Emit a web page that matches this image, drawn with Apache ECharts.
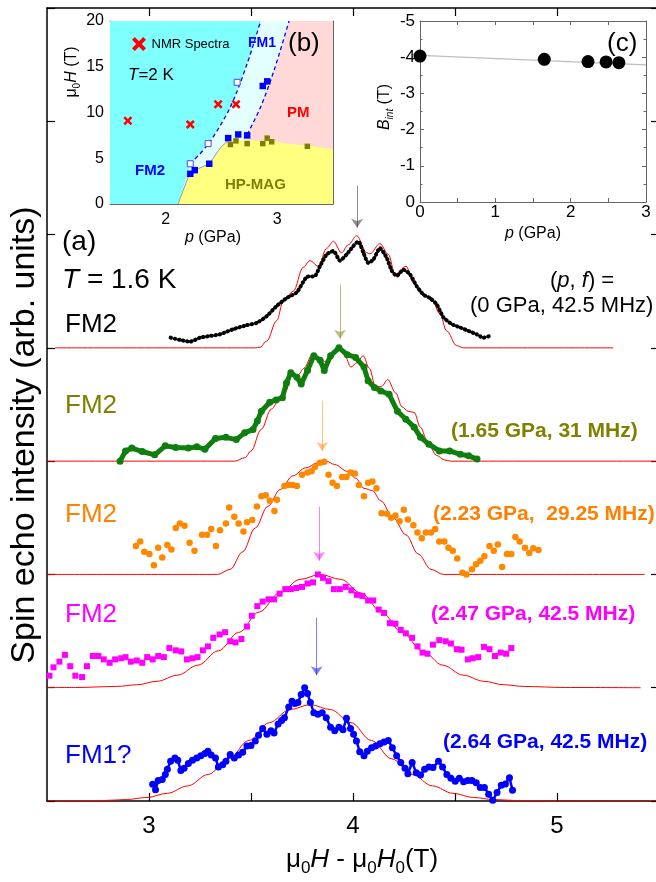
<!DOCTYPE html>
<html><head><meta charset="utf-8">
<script src="https://cdn.jsdelivr.net/npm/echarts@6/dist/echarts.min.js"></script>
<style>html,body{margin:0;padding:0;background:#fff}#c{width:656px;height:882px}</style>
</head><body><div id="c"></div>
<script>
// ---------------- main panel (a) ----------------
const xTickValues = [3, 3.5, 4, 4.5, 5];
const xTickLabels = [3, 4, 5];
const offsets = [4, 3, 2, 1, 0]; // black, green, orange, magenta, blue

const blackX = [3.106,3.152,3.201,3.250,3.299,3.348,3.413,3.479,3.528,3.577,3.626,3.675,3.724,3.773,3.814,3.838,3.871,3.904,3.936,3.969,4.002,4.026,4.051,4.075,4.100,4.132,4.165,4.190,4.214,4.247,4.279,4.312,4.345,4.377,4.410,4.443,4.484,4.525,4.565,4.606,4.639,4.672];
const blackY = [0.09,0.07,0.055,0.09,0.105,0.12,0.165,0.20,0.22,0.28,0.37,0.44,0.49,0.625,0.635,0.72,0.825,0.855,0.77,0.825,0.90,0.94,0.84,0.75,0.78,0.88,0.795,0.68,0.635,0.69,0.65,0.545,0.47,0.44,0.385,0.27,0.21,0.18,0.15,0.12,0.09,0.105];
const blackFitX = [2.54,3.52,3.544,3.577,3.626,3.658,3.707,3.756,3.789,3.830,3.871,3.904,3.944,3.977,4.018,4.067,4.083,4.132,4.173,4.206,4.260,4.296,4.345,4.386,4.426,4.459,4.508,4.541,5.276];
const blackFitY = [0,0,0.005,0.06,0.24,0.41,0.50,0.71,0.77,0.72,0.88,0.94,0.84,0.91,0.99,0.84,0.83,0.92,0.825,0.65,0.72,0.575,0.46,0.43,0.30,0.15,0.02,0,0];

const greenX = [2.858,2.885,2.916,2.967,3.028,3.080,3.131,3.193,3.234,3.274,3.326,3.377,3.428,3.469,3.510,3.531,3.551,3.592,3.623,3.654,3.674,3.695,3.725,3.746,3.777,3.808,3.839,3.859,3.890,3.931,3.972,4.013,4.054,4.074,4.105,4.136,4.177,4.218,4.259,4.300,4.331,4.372,4.423,4.474,4.526,4.567,4.608];
const greenY = [0.0,0.09,0.115,0.085,0.056,0.135,0.12,0.115,0.126,0.106,0.20,0.21,0.19,0.25,0.28,0.355,0.44,0.52,0.54,0.56,0.69,0.78,0.74,0.68,0.80,0.93,0.89,0.80,0.93,1.0,0.94,0.915,0.83,0.71,0.65,0.62,0.59,0.44,0.37,0.30,0.21,0.15,0.09,0.09,0.06,0.047,0.018];
const greenFitX = [2.5,3.42,3.47,3.50,3.55,3.60,3.64,3.67,3.70,3.73,3.76,3.80,3.84,3.86,3.90,3.93,3.96,3.99,4.02,4.05,4.08,4.11,4.14,4.17,4.21,4.24,4.27,4.30,4.33,4.37,4.41,4.45,4.48,5.49];
const greenFitY = [0,0,0.03,0.09,0.28,0.46,0.55,0.62,0.76,0.76,0.82,0.94,0.91,0.88,0.95,1.0,0.93,0.83,0.87,0.93,0.82,0.66,0.66,0.72,0.6,0.48,0.44,0.43,0.3,0.15,0.05,0.01,0,0];

const orangeX = [2.936,2.957,2.977,3.002,3.024,3.045,3.065,3.090,3.110,3.131,3.151,3.174,3.199,3.223,3.260,3.285,3.305,3.328,3.348,3.377,3.393,3.418,3.439,3.463,3.480,3.506,3.529,3.551,3.572,3.592,3.615,3.627,3.664,3.685,3.705,3.725,3.750,3.777,3.797,3.814,3.838,3.859,3.880,3.900,3.921,3.947,3.968,3.988,4.009,4.029,4.054,4.074,4.095,4.115,4.140,4.167,4.187,4.208,4.228,4.249,4.269,4.296,4.316,4.337,4.357,4.382,4.403,4.423,4.448,4.468,4.489,4.511,4.536,4.556,4.583,4.603,4.624,4.644,4.669,4.690,4.710,4.731,4.755,4.776,4.796,4.817,4.843,4.864,4.884,4.909];
const orangeY = [0.25,0.29,0.2,0.18,0.08,0.235,0.15,0.26,0.22,0.41,0.45,0.43,0.28,0.21,0.35,0.35,0.40,0.25,0.39,0.45,0.59,0.51,0.45,0.38,0.46,0.48,0.60,0.69,0.70,0.65,0.56,0.66,0.78,0.79,0.79,0.78,0.88,0.90,0.91,0.95,0.985,0.994,0.88,0.81,0.78,0.86,0.86,0.90,0.89,0.79,0.69,0.81,0.82,0.76,0.54,0.535,0.50,0.52,0.47,0.57,0.485,0.435,0.37,0.32,0.37,0.37,0.40,0.29,0.29,0.235,0.21,0.14,0.015,0.0,0.045,0.09,0.12,0.16,0.25,0.21,0.265,0.065,0.18,0.18,0.33,0.29,0.235,0.19,0.23,0.215];
const orangeFitX = [2.5,3.336,3.398,3.459,3.521,3.582,3.644,3.705,3.767,3.828,3.869,3.910,3.972,4.013,4.054,4.095,4.136,4.197,4.259,4.320,4.382,4.443,5.43];
const orangeFitY = [0,0,0.045,0.2,0.41,0.60,0.75,0.87,0.94,0.985,1.0,0.97,0.91,0.85,0.76,0.74,0.65,0.5,0.35,0.18,0.045,0,0];

const magX = [2.512,2.532,2.561,2.588,2.614,2.639,2.672,2.696,2.725,2.752,2.778,2.807,2.834,2.864,2.885,2.911,2.940,2.967,2.991,3.018,3.045,3.073,3.100,3.131,3.158,3.186,3.213,3.238,3.264,3.289,3.315,3.346,3.373,3.398,3.424,3.453,3.480,3.504,3.531,3.557,3.586,3.613,3.640,3.668,3.695,3.722,3.750,3.777,3.804,3.828,3.853,3.880,3.906,3.935,3.964,3.992,4.019,4.046,4.074,4.099,4.126,4.152,4.181,4.208,4.234,4.259,4.290,4.316,4.341,4.365,4.392,4.423,4.454,4.480,4.509,4.532,4.563,4.587,4.614,4.642,4.669,4.696,4.724,4.751,4.776];
const magY = [0.106,0.18,0.23,0.29,0.19,0.106,0.094,0.19,0.28,0.28,0.25,0.22,0.25,0.26,0.27,0.23,0.24,0.22,0.27,0.25,0.28,0.27,0.35,0.33,0.32,0.25,0.26,0.27,0.33,0.365,0.44,0.47,0.49,0.41,0.40,0.43,0.54,0.635,0.72,0.76,0.78,0.78,0.83,0.87,0.87,0.88,0.89,0.92,0.93,1.0,0.97,0.94,0.87,0.87,0.89,0.86,0.82,0.81,0.77,0.77,0.69,0.66,0.57,0.565,0.51,0.48,0.44,0.365,0.31,0.30,0.38,0.42,0.41,0.39,0.34,0.335,0.25,0.26,0.27,0.36,0.34,0.28,0.31,0.30,0.35];
const magFitX = [2.5,2.64,2.84,2.94,3.04,3.14,3.24,3.34,3.44,3.54,3.64,3.74,3.84,3.94,4.04,4.14,4.24,4.34,4.44,4.54,4.64,4.74,4.84,5.04,5.41];
const magFitY = [0.001,0.002,0.011,0.026,0.057,0.111,0.199,0.326,0.488,0.668,0.836,0.956,1.0,0.956,0.836,0.668,0.488,0.326,0.199,0.111,0.057,0.026,0.011,0.002,0];

const blueX = [3.018,3.032,3.045,3.065,3.080,3.090,3.106,3.127,3.141,3.156,3.172,3.193,3.213,3.234,3.254,3.274,3.289,3.305,3.326,3.340,3.361,3.377,3.398,3.418,3.439,3.459,3.480,3.500,3.521,3.537,3.557,3.578,3.598,3.613,3.633,3.650,3.664,3.685,3.701,3.715,3.730,3.746,3.763,3.777,3.791,3.808,3.828,3.849,3.869,3.890,3.910,3.931,3.951,3.968,3.988,4.003,4.017,4.033,4.054,4.070,4.091,4.111,4.132,4.152,4.173,4.193,4.214,4.234,4.255,4.269,4.290,4.310,4.331,4.351,4.372,4.392,4.419,4.439,4.460,4.480,4.501,4.521,4.542,4.563,4.583,4.604,4.624,4.644,4.665,4.685,4.706,4.727,4.747,4.767,4.782];
const blueY = [0.147,0.10,0.18,0.19,0.235,0.28,0.35,0.38,0.36,0.27,0.29,0.33,0.36,0.38,0.40,0.42,0.44,0.405,0.38,0.30,0.32,0.35,0.41,0.38,0.405,0.43,0.485,0.49,0.53,0.58,0.64,0.59,0.62,0.60,0.68,0.71,0.735,0.83,0.88,0.86,0.87,0.94,1.0,0.95,0.87,0.78,0.765,0.78,0.735,0.65,0.62,0.65,0.63,0.73,0.64,0.59,0.53,0.435,0.40,0.44,0.47,0.485,0.505,0.52,0.535,0.47,0.40,0.34,0.29,0.24,0.34,0.25,0.23,0.28,0.30,0.295,0.35,0.30,0.235,0.20,0.175,0.20,0.17,0.18,0.18,0.16,0.12,0.12,0.06,0.006,0.074,0.14,0.15,0.205,0.094];
const blueFitX = [2.5,2.79,2.89,2.99,3.09,3.19,3.29,3.39,3.49,3.59,3.69,3.79,3.89,3.99,4.09,4.19,4.29,4.39,4.49,4.59,4.69,4.79,4.99,5.5];
const blueFitY = [0,0.005,0.013,0.031,0.068,0.133,0.234,0.372,0.534,0.692,0.807,0.85,0.807,0.692,0.534,0.372,0.234,0.133,0.068,0.031,0.013,0.005,0,0];

// peak arrows (x, start value, end value)
const arrowX = [4.02, 3.936, 3.849, 3.834, 3.822];
const arrowFrom = [5.43, 4.56, 3.53, 2.60, 1.62];
const arrowTo = [5.06, 4.08, 3.09, 2.12, 1.11];

const traceNames = ['FM2', 'FM2', 'FM2', 'FM2', 'FM1?'];
const traceConds = ['(0 GPa, 42.5 MHz)', '(1.65 GPa, 31 MHz)', '(2.23 GPa,  29.25 MHz)', '(2.47 GPa, 42.5 MHz)', '(2.64 GPa, 42.5 MHz)'];

// ---------------- inset (b): phase diagram ----------------
const bXTicks = [2, 2.5, 3];
const bXLabels = [2, 3];
const fm2Edge = [[2.11,0],[2.20,3.4],[2.22,4.4],[2.386,6.63],[2.581,10.64],[2.731,15.37],[2.851,20]];
const fm1Edge = [[2.73,7.6],[2.851,10.6],[2.971,14.6],[3.106,20]];
const magTop = [[2.11,0],[2.21,3.2],[2.30,3.9],[2.39,4.4],[2.50,6.3],[2.56,6.9],[2.70,7.0],[2.90,6.9],[3.10,6.6],[3.50,6.0]];
const bBlueSq = [[2.22,3.3],[2.26,3.7],[2.39,4.4],[2.56,7.2],[2.65,7.6],[2.73,7.5],[2.87,12.9],[2.91,13.4]];
const bOpenSq = [[2.22,4.4],[2.38,6.6],[2.64,13.3]];
const bOliveSq = [[2.58,6.5],[2.63,6.9],[2.73,6.6],[2.87,6.6],[2.91,7.2],[2.95,6.8],[3.27,6.3]];
const bNMR = [[1.66,9.1],[2.22,8.7],[2.47,10.9],[2.63,10.9]];

// ---------------- inset (c): internal field ----------------
const cP = [0, 1.65, 2.23, 2.47, 2.64];
const cB = [-4.03, -3.94, -3.88, -3.87, -3.85];
const cFitP = [0, 3];
const cFitB = [-4.05, -3.79];
const cXTicks = [0, 0.5, 1, 1.5, 2, 2.5, 3];
const cXLabels = [0, 1, 2, 3];

const FONT = '"Liberation Sans", Arial, Helvetica, sans-serif';
const pair = (xs, ys, off) => xs.map((x, i) => [x, ys[i] + (off || 0)]);
const XPATH = 'path://M2,0L5,3L8,0L10,2L7,5L10,8L8,10L5,7L2,10L0,8L3,5L0,2Z';

const colors = ['#000000', '#0e7f0e', '#ff8800', '#ff00ff', '#0000ff'];
const labelColors = ['#000000', '#808000', '#ff8000', '#ff00ff', '#0000ff'];
const arrowColors = ['#222222', '#808000', '#ff8800', '#ff00ff', '#0000ff'];

function axisBase(o) {
  return Object.assign({
    type: 'value', splitLine: {show: false},
    axisLine: {show: true, onZero: false, lineStyle: {color: '#000', width: 1.5}},
    axisTick: {show: true, inside: true, length: 8, lineStyle: {color: '#000', width: 1.2}},
    axisLabel: {show: false}
  }, o);
}

const chart = echarts.init(document.getElementById('c'), null, {renderer: 'canvas'});

const grids = [
  {left: 47, right: -3, top: 8, bottom: 81, outerBoundsMode: 'none', containLabel: false},
  {left: 110, top: 21, width: 223, height: 183, outerBoundsMode: 'none', containLabel: false},
  {left: 420, top: 21, width: 226, height: 181, outerBoundsMode: 'none', containLabel: false, backgroundColor: '#fff', show: true, borderWidth: 0}
];

const insetLine = {show: true, onZero: false, lineStyle: {color: '#666', width: 1}};
const insetTick = (cv) => Object.assign({show: true, inside: true, length: 4, lineStyle: {color: '#666', width: 1}}, cv ? {customValues: cv} : {});

const xAxes = [
  axisBase({gridIndex: 0, min: 2.5, max: 5.5, position: 'bottom',
    axisTick: {show: true, inside: true, length: 8, customValues: xTickValues, lineStyle: {color: '#000', width: 1.2}},
    axisLabel: {show: true, customValues: xTickLabels, fontSize: 24, color: '#000', fontFamily: FONT, margin: 13}}),
  axisBase({gridIndex: 0, min: 2.5, max: 5.5, position: 'top',
    axisTick: {show: true, inside: true, length: 8, customValues: xTickValues, lineStyle: {color: '#000', width: 1.2}}}),
  axisBase({gridIndex: 1, min: 1.5, max: 3.5, position: 'bottom', axisLine: insetLine, axisTick: insetTick(bXTicks),
    axisLabel: {show: true, customValues: bXLabels, fontSize: 16, color: '#000', fontFamily: FONT, margin: 8}}),
  axisBase({gridIndex: 1, min: 1.5, max: 3.5, position: 'top', axisLine: insetLine, axisTick: insetTick(bXTicks)}),
  axisBase({gridIndex: 2, min: 0, max: 3, position: 'bottom', axisLine: insetLine, axisTick: insetTick(cXTicks),
    axisLabel: {show: true, customValues: cXLabels, fontSize: 17, color: '#000', fontFamily: FONT, margin: 2}}),
  axisBase({gridIndex: 2, min: 0, max: 3, position: 'top', axisLine: insetLine, axisTick: insetTick(cXTicks)})
];
const yAxes = [
  axisBase({gridIndex: 0, min: 0, max: 7, interval: 1, position: 'left'}),
  axisBase({gridIndex: 0, min: 0, max: 7, interval: 1, position: 'right'}),
  axisBase({gridIndex: 1, min: 0, max: 20, interval: 5, position: 'left', axisLine: insetLine, axisTick: insetTick(),
    minorTick: {show: true, splitNumber: 2, length: 2.5, lineStyle: {color: '#666'}},
    axisLabel: {show: true, fontSize: 16, color: '#000', fontFamily: FONT, margin: 6}}),
  axisBase({gridIndex: 1, min: 0, max: 20, interval: 5, position: 'right', axisLine: insetLine, axisTick: insetTick(),
    minorTick: {show: true, splitNumber: 2, length: 2.5, lineStyle: {color: '#666'}}}),
  axisBase({gridIndex: 2, min: -5, max: 0, interval: 1, inverse: true, position: 'left', axisLine: insetLine, axisTick: insetTick(),
    minorTick: {show: true, splitNumber: 2, length: 2.5, lineStyle: {color: '#666'}},
    axisLabel: {show: true, fontSize: 17, color: '#000', fontFamily: FONT, margin: 5}}),
  axisBase({gridIndex: 2, min: -5, max: 0, interval: 1, inverse: true, position: 'right', axisLine: insetLine, axisTick: insetTick(),
    minorTick: {show: true, splitNumber: 2, length: 2.5, lineStyle: {color: '#666'}}})
];

const series = [];
// fits
[[blackFitX, blackFitY], [greenFitX, greenFitY], [orangeFitX, orangeFitY], [magFitX, magFitY], [blueFitX, blueFitY]].forEach((f, k) => {
  series.push({type: 'line', xAxisIndex: 0, yAxisIndex: 0, data: pair(f[0], f[1], offsets[k]), showSymbol: false,
    smooth: 0.35, smoothMonotone: 'x', lineStyle: {color: '#ff0000', width: 1}, z: 3, silent: true, animation: false});
});
// data
series.push({type: 'line', xAxisIndex: 0, yAxisIndex: 0, data: pair(blackX, blackY, offsets[0]), showSymbol: false, smooth: 0.2,
  lineStyle: {color: '#000', width: 4, type: [0.6, 3.6], cap: 'round'}, z: 4, animation: false});
series.push({type: 'line', xAxisIndex: 0, yAxisIndex: 0, data: pair(greenX, greenY, offsets[1]), symbol: 'circle', symbolSize: 7, showSymbol: true,
  lineStyle: {color: colors[1], width: 5}, itemStyle: {color: colors[1]}, z: 4, animation: false});
series.push({type: 'scatter', xAxisIndex: 0, yAxisIndex: 0, data: pair(orangeX, orangeY, offsets[2]), symbol: 'circle', symbolSize: 6.5,
  itemStyle: {color: colors[2], opacity: 1}, z: 4, animation: false});
series.push({type: 'scatter', xAxisIndex: 0, yAxisIndex: 0, data: pair(magX, magY, offsets[3]), symbol: 'rect', symbolSize: 6,
  itemStyle: {color: colors[3], opacity: 1}, z: 4, animation: false});
series.push({type: 'line', xAxisIndex: 0, yAxisIndex: 0, data: pair(blueX, blueY, offsets[4]), symbol: 'circle', symbolSize: 7, showSymbol: true,
  lineStyle: {color: colors[4], width: 2.5}, itemStyle: {color: colors[4]}, z: 4, animation: false});
// arrows
series.push({type: 'lines', coordinateSystem: 'cartesian2d', xAxisIndex: 0, yAxisIndex: 0, symbol: ['none', 'arrow'], symbolSize: [6, 9],
  data: arrowX.map((x, k) => ({coords: [[x, arrowFrom[k]], [x, arrowTo[k]]], lineStyle: {color: arrowColors[k], width: 1}})),
  lineStyle: {width: 1}, z: 5, animation: false, silent: true});

// inset (b) polygons
function poly(pts, fill, z) {
  return {type: 'custom', xAxisIndex: 2, yAxisIndex: 2, clip: true, silent: true, z: z, animation: false, data: [[2, 10]],
    renderItem: (p, api) => ({type: 'polygon', shape: {points: pts.map(q => api.coord(q))}, style: {fill: fill}})};
}
const rectAll = [[1.5,0],[3.5,0],[3.5,20],[1.5,20]];
const lightCyan = [[1.5,20]].concat(fm1Edge.slice().reverse(), [[2.70,7.0]], magTop.slice(0,6).reverse(), [[1.5,0]]);
const cyan = [[1.5,20]].concat(fm2Edge.slice().reverse(), [[1.5,0]]);
const yellow = magTop.concat([[3.5,0]]);
series.push(poly(rectAll, '#ffd8d8', 1));
series.push(poly(lightCyan, '#e4ffff', 1));
series.push(poly(cyan, '#80ffff', 1));
series.push(poly(yellow, '#ffff80', 1));
series.push({type: 'line', xAxisIndex: 2, yAxisIndex: 2, data: fm2Edge.slice(2), showSymbol: false, smooth: 0.3,
  lineStyle: {color: '#0000ff', width: 1.3, type: [4, 3]}, z: 3, animation: false, silent: true});
series.push({type: 'line', xAxisIndex: 2, yAxisIndex: 2, data: fm1Edge, showSymbol: false, smooth: 0.3,
  lineStyle: {color: '#0000ff', width: 1.3, type: [4, 3]}, z: 3, animation: false, silent: true});
series.push({type: 'line', xAxisIndex: 2, yAxisIndex: 2, data: magTop.slice(0, 6), showSymbol: false,
  lineStyle: {color: '#9a9ab0', width: 1}, z: 3, animation: false, silent: true});
series.push({type: 'scatter', xAxisIndex: 2, yAxisIndex: 2, data: bOliveSq, symbol: 'rect', symbolSize: 5.5,
  itemStyle: {color: '#808000', opacity: 1}, z: 4, animation: false});
series.push({type: 'scatter', xAxisIndex: 2, yAxisIndex: 2, data: bOpenSq, symbol: 'rect', symbolSize: 6,
  itemStyle: {color: '#ffffff', borderColor: '#4a4aff', borderWidth: 1, opacity: 1}, z: 4, animation: false});
series.push({type: 'scatter', xAxisIndex: 2, yAxisIndex: 2, data: bBlueSq, symbol: 'rect', symbolSize: 6.5,
  itemStyle: {color: '#0000ff', opacity: 1}, z: 4, animation: false});
series.push({type: 'scatter', name: 'NMR Spectra', xAxisIndex: 2, yAxisIndex: 2, data: bNMR, symbol: XPATH, symbolSize: 9,
  itemStyle: {color: '#ff0000', opacity: 1}, z: 5, animation: false});

// inset (c)
series.push({type: 'line', xAxisIndex: 4, yAxisIndex: 4, data: pair(cFitP, cFitB), showSymbol: false,
  lineStyle: {color: '#bdbdbd', width: 1.2}, z: 3, animation: false, silent: true});
series.push({type: 'scatter', xAxisIndex: 4, yAxisIndex: 4, data: pair(cP, cB), symbol: 'circle', symbolSize: 13,
  itemStyle: {color: '#000', opacity: 1}, z: 4, animation: false});

// ---------- text ----------
function txt(x, y, text, o) {
  o = o || {};
  const st = {text: text, fontFamily: FONT, fontSize: o.size || 26, fill: o.color || '#000', fontWeight: o.weight || 'normal',
    fontStyle: o.style || 'normal', textAlign: o.align || 'left', textVerticalAlign: 'middle', verticalAlign: 'middle'};
  if (o.rich) st.rich = o.rich;
  return {type: 'text', x: x, y: y, rotation: o.rot || 0, style: st, z: 100, silent: true};
}
function richSet(size, color) {
  const base = {fontFamily: FONT, fontSize: size, fill: color || '#000', color: color || '#000', lineHeight: Math.round(size * 1.25), verticalAlign: 'middle'};
  return {
    n: Object.assign({}, base),
    i: Object.assign({}, base, {fontStyle: 'italic'}),
    s: Object.assign({}, base, {fontSize: Math.round(size * 0.65), lineHeight: Math.round(size * 0.6), verticalAlign: 'bottom'}),
    si: Object.assign({}, base, {fontStyle: 'italic', fontSize: Math.round(size * 0.62), lineHeight: Math.round(size * 0.6), verticalAlign: 'bottom'})
  };
}

const fmY = [325, 406, 515, 615, 756];
const condPos = [[470, 306], [451, 431], [433, 514], [431, 614], [443, 742]];
const graphics = [
  txt(25, 435, 'Spin echo intensity (arb. units)', {size: 34, align: 'center', rot: Math.PI / 2}),
  txt(362, 860, '{n|μ}{s|0}{i|H}{n| - μ}{s|0}{i|H}{s|0}{n|(T)}', {size: 26, align: 'center', rich: richSet(26)}),
  txt(62, 242, '(a)', {size: 28}),
  txt(62, 280, '{i|T}{n| = 1.6 K}', {size: 28, rich: richSet(28)}),
  txt(550, 281, '{n|(}{i|p}{n|, }{i|f}{n|) =}', {size: 22, rich: richSet(22)}),
  // inset b labels
  txt(128, 75, '{i|T}{n|=2 K}', {size: 17, rich: richSet(17)}),
  txt(248, 43, 'FM1', {size: 14, weight: 'bold', color: '#0000ff'}),
  txt(288, 44, '(b)', {size: 26}),
  txt(287, 113, 'PM', {size: 15, weight: 'bold', color: '#ff0000'}),
  txt(135, 171, 'FM2', {size: 15, weight: 'bold', color: '#0000ff'}),
  txt(225, 185, 'HP-MAG', {size: 15, weight: 'bold', color: '#808000'}),
  txt(72, 72, '{n|μ}{s|0}{i|H}{n| (T)}', {size: 16, align: 'center', rot: Math.PI / 2, rich: richSet(16)}),
  txt(213, 238, '{i|p}{n| (GPa)}', {size: 16, align: 'center', rich: richSet(16)}),
  // inset c labels
  txt(607, 44, '(c)', {size: 26}),
  txt(385, 107, '{i|B}{si|int}{n| (T)}', {size: 16, align: 'center', rot: Math.PI / 2, rich: richSet(16)}),
  txt(533, 234, '{i|p}{n| (GPa)}', {size: 16, align: 'center', rich: richSet(16)})
];
traceNames.forEach((n, k) => graphics.push(txt(65, fmY[k], n, {size: 26, color: labelColors[k]})));
traceConds.forEach((c, k) => graphics.push(txt(condPos[k][0], condPos[k][1], c,
  k === 0 ? {size: 22} : {size: 21, weight: 'bold', color: labelColors[k]})));

chart.setOption({
  animation: false,
  backgroundColor: '#fff',
  grid: grids,
  xAxis: xAxes,
  yAxis: yAxes,
  legend: {show: true, data: [{name: 'NMR Spectra', icon: XPATH}], left: 132, top: 37, itemWidth: 15, itemHeight: 14,
    itemGap: 5, padding: 0, textStyle: {fontSize: 13, color: '#000', fontFamily: FONT}, selectedMode: false},
  tooltip: {show: false},
  series: series,
  graphic: graphics
});
</script>
</body></html>
